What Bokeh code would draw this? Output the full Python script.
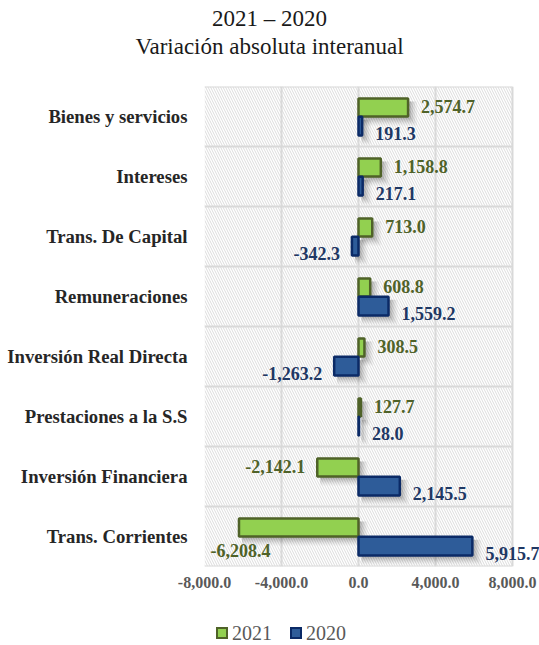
from bokeh.plotting import figure
from bokeh.layouts import column
from bokeh.models import (Range1d, FixedTicker, NumeralTickFormatter, ColumnDataSource, Div)
from bokeh.embed import file_html
from bokeh.resources import INLINE
from bokeh.core.properties import value

# ---------------- data ----------------
categories = ["Bienes y servicios", "Intereses", "Trans. De Capital", "Remuneraciones",
              "Inversión Real Directa", "Prestaciones a la S.S", "Inversión Financiera",
              "Trans. Corrientes"]
values_2021 = [2574.7, 1158.8, 713.0, 608.8, 308.5, 127.7, -2142.1, -6208.4]
values_2020 = [191.3, 217.1, -342.3, 1559.2, -1263.2, 28.0, 2145.5, 5915.7]
x_ticks = [-8000, -4000, 0, 4000, 8000]
title_lines = ["2021 – 2020", "Variación absoluta interanual"]
series_names = ["2021", "2020"]

# ---------------- styling ----------------
FONT = "Liberation Serif"
G_FILL, G_LINE, G_TEXT = "#92D050", "#4F6228", "#4F6228"
B_FILL, B_LINE, B_TEXT = "#2E5C99", "#0B2A66", "#1F3864"
GRID = "#D9D9D9"

W = 539
TITLE_H = 60
LEG_H = 40
H = 645 - TITLE_H - LEG_H
PLOT_W, FH = 308, 480        # visible plot area
BL, BT = 204, 26
EXTRA_R = W - BL - PLOT_W     # room for labels right of the plot area
n = len(categories)
centers = [n - i - 0.5 for i in range(n)]

sx = (x_ticks[-1] - x_ticks[0]) / PLOT_W   # data units per px (x)
sy = n / FH                                 # data units per px (y)

p = figure(width=W, height=H, output_backend="svg", toolbar_location=None,
           x_range=Range1d(x_ticks[0], x_ticks[-1] + EXTRA_R * sx), y_range=Range1d(0, n),
           min_border_left=BL, min_border_right=0,
           min_border_top=BT, min_border_bottom=H - BT - FH, margin=0)
p.background_fill_color = "white"
p.border_fill_color = "white"
p.outline_line_color = None

# hatched plot background
p.quad(left=[x_ticks[0]], right=[x_ticks[-1]], bottom=[0], top=[n],
       fill_color="white", line_color=None, hatch_pattern="\\",
       hatch_color="#DCDCDC", hatch_scale=5, hatch_weight=1, level="image")

# grid: vertical lines via grid, horizontal lines bounded to the plot area
p.xgrid.ticker = FixedTicker(ticks=x_ticks)
p.xgrid.grid_line_color = GRID
p.xgrid.grid_line_width = 2
p.ygrid.visible = False
bounds = list(range(n + 1))
p.segment(x0=[x_ticks[0]] * len(bounds), x1=[x_ticks[-1]] * len(bounds), y0=bounds, y1=bounds,
          line_color=GRID, line_width=2, level="underlay")

# axes
p.xaxis.ticker = FixedTicker(ticks=x_ticks)
p.xaxis.formatter = NumeralTickFormatter(format="0,0.0")
p.yaxis.ticker = FixedTicker(ticks=centers)
p.yaxis.major_label_overrides = {c: cat for c, cat in zip(centers, categories)}
for ax in (p.xaxis[0], p.yaxis[0]):
    ax.axis_line_color = None
    ax.major_tick_line_color = None
    ax.minor_tick_line_color = None
    ax.major_label_text_font = FONT
    ax.major_label_text_font_style = "bold"
p.xaxis.major_label_text_font_size = "16px"
p.xaxis.major_label_text_color = "#595959"
p.xaxis.major_label_standoff = 4
p.yaxis.major_label_text_font_size = "18.7px"
p.yaxis.major_label_text_color = "#262626"
p.yaxis.major_label_standoff = 11

# bar geometry
g_y = [c + 0.15 for c in centers]
b_y = [c - 0.16 for c in centers]
g_h, b_h = 0.30, 0.31

# soft shadows
for d, grow, a in [(6, 3, 0.04), (5, 2, 0.06), (4, 1, 0.08), (3, 0, 0.10)]:
    for ys, vals, h in [(g_y, values_2021, g_h), (b_y, values_2020, b_h)]:
        p.hbar(y=[y - d * sy for y in ys],
               left=[min(0, v) + (d - grow) * sx for v in vals],
               right=[max(0, v) + (d + grow) * sx for v in vals],
               height=h + 2 * grow * sy, fill_color="black", fill_alpha=a, line_color=None)

rg = p.hbar(y=g_y, left=[min(0, v) for v in values_2021], right=[max(0, v) for v in values_2021],
            height=g_h, fill_color=G_FILL, line_color=G_LINE, line_width=2.5)
rb = p.hbar(y=b_y, left=[min(0, v) for v in values_2020], right=[max(0, v) for v in values_2020],
            height=b_h, fill_color=B_FILL, line_color=B_LINE, line_width=2.5)


def label_source(vals, ys, dy):
    xs, yy, txt, xo, yo, al = [], [], [], [], [], []
    for v, y in zip(vals, ys):
        t = f"{v:,.1f}"
        if v >= 0:
            xs.append(v); xo.append(13); al.append("left"); yo.append(dy)
        elif (v - x_ticks[0]) / sx > 85:
            xs.append(v); xo.append(-12); al.append("right"); yo.append(dy)
        else:  # not enough room on the left: put it under the bar
            xs.append(x_ticks[0]); xo.append(6); al.append("left"); yo.append(dy + 24)
        yy.append(y); txt.append(t)
    return ColumnDataSource(dict(x=xs, y=yy, text=txt, xo=xo, yo=yo, al=al))


for src, col in [(label_source(values_2021, g_y, -1), G_TEXT),
                 (label_source(values_2020, b_y, 7), B_TEXT)]:
    p.text(x="x", y="y", text="text", x_offset="xo", y_offset="yo", text_align="al",
           source=src, text_baseline="middle", text_color=col,
           text_font=value(FONT), text_font_style="bold", text_font_size="18px")

# title block
title = Div(text=(f'<div style="font-family:{FONT};font-size:23px;color:#1A1A1A;'
                  f'text-align:center;width:{W}px;padding-top:1px">'
                  f'<div style="line-height:36px">{title_lines[0]}</div>'
                  f'<div style="line-height:20px">{title_lines[1]}</div></div>'),
            width=W, height=TITLE_H, margin=0)

# legend block (same fills / borders as the bars)
def swatch(left, fill, line):
    return (f'<span style="position:absolute;left:{left}px;top:22px;width:12px;height:12px;'
            f'box-sizing:border-box;background:{fill};border:2.5px solid {line}"></span>')

def leg_text(left, t):
    return (f'<span style="position:absolute;left:{left}px;top:16px;line-height:24px;'
            f'font-family:{FONT};font-size:20px;color:#595959">{t}</span>')

legend = Div(text=(f'<div style="position:relative;width:{W}px;height:{LEG_H}px">'
                   + swatch(216, G_FILL, G_LINE) + leg_text(232, series_names[0])
                   + swatch(290, B_FILL, B_LINE) + leg_text(306, series_names[1])
                   + '</div>'),
             width=W, height=LEG_H, margin=0)

layout = column(title, p, legend, spacing=0)
open("out.html", "w").write(file_html(layout, INLINE))
